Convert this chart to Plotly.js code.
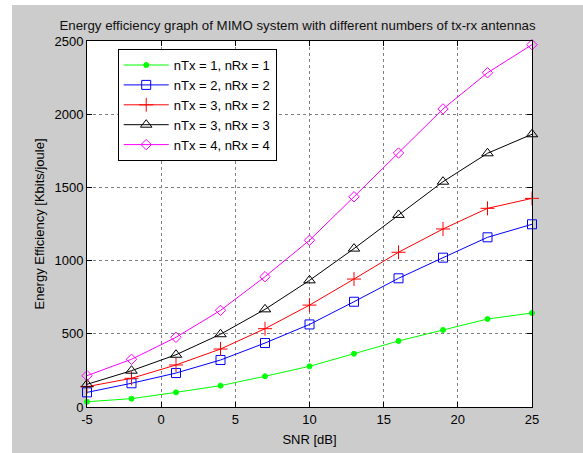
<!DOCTYPE html>
<html>
<head>
<meta charset="utf-8">
<script src="https://cdn.plot.ly/plotly-3.0.1.min.js"></script>
<style>
html,body{margin:0;padding:0;background:#ffffff;width:583px;height:453px;overflow:hidden;}
#chart{position:absolute;left:12px;top:5px;width:571px;height:448px;}
</style>
</head>
<body>
<div id="chart"></div>
<script>
const snr = [-5, -2, 1, 4, 7, 10, 13, 16, 19, 22, 25];
const ee11 = [36, 57, 100, 146, 210, 278, 364, 451, 526, 601, 642];
const ee22 = [100, 162, 232, 321, 437, 564, 719, 879, 1020, 1159, 1248];
const ee32 = [139, 196, 287, 396, 535, 696, 874, 1057, 1216, 1357, 1425];
const ee33 = [155, 248, 357, 497, 667, 865, 1082, 1312, 1539, 1733, 1863];
const ee44 = [214, 326, 476, 660, 890, 1139, 1436, 1735, 2036, 2283, 2475];
const names = ['nTx = 1, nRx = 1', 'nTx = 2, nRx = 2', 'nTx = 3, nRx = 2', 'nTx = 3, nRx = 3', 'nTx = 4, nRx = 4'];
const xTicks = [-5, 0, 5, 10, 15, 20, 25];
const yTicks = [0, 500, 1000, 1500, 2000, 2500];

const series = [ee11, ee22, ee32, ee33, ee44];
const colors = ['#00ff00', '#0000ff', '#ff0000', '#000000', '#ff00ff'];
const symbols = ['circle', 'square-open', 'cross-thin-open', 'triangle-up-open', 'diamond-open'];
const sizes = [5, 9, 10, 10, 8];

const traces = series.map((y, i) => ({
  x: snr, y: y, name: names[i], type: 'scatter', mode: 'lines+markers',
  line: {color: colors[i], width: 1},
  marker: {symbol: symbols[i], size: sizes[i], color: colors[i], line: {color: colors[i], width: 1}},
  cliponaxis: false
}));

const fontFam = '"Liberation Sans", Arial, Helvetica, sans-serif';
const layout = {
  width: 571, height: 448,
  paper_bgcolor: '#cccccc', plot_bgcolor: '#ffffff',
  margin: {l: 75, r: 51, t: 36, b: 46},
  font: {family: fontFam, size: 13, color: '#000000'},
  title: {text: 'Energy efficiency graph of MIMO system with different numbers of tx-rx antennas',
          font: {family: fontFam, size: 13.3, color: '#111111'}, x: 0.5, xanchor: 'center', y: 1, yref: 'paper', yanchor: 'bottom', pad: {b: 11}},
  xaxis: {
    range: [-5, 25], tickvals: xTicks, ticktext: xTicks.map(String),
    showline: true, linecolor: '#000000', linewidth: 1, mirror: 'ticks',
    ticks: 'inside', ticklen: 5, tickcolor: '#000000',
    showgrid: true, gridcolor: '#808080', griddash: 'dot', gridwidth: 1,
    zeroline: false,
    title: {text: 'SNR [dB]', font: {size: 13}, standoff: 9},
    tickfont: {size: 13}
  },
  yaxis: {
    range: [0, 2500], tickvals: yTicks, ticktext: yTicks.map(String),
    showline: true, linecolor: '#000000', linewidth: 1, mirror: 'ticks',
    ticks: 'inside', ticklen: 5, tickcolor: '#000000',
    showgrid: true, gridcolor: '#808080', griddash: 'dot', gridwidth: 1,
    zeroline: false,
    title: {text: 'Energy Efficiency [Kbits/joule]', font: {size: 13}, standoff: 6},
    tickfont: {size: 13}
  },
  legend: {
    x: 0.069, y: 0.978, xanchor: 'left', yanchor: 'top',
    bgcolor: '#ffffff', bordercolor: '#000000', borderwidth: 1,
    itemwidth: 45,
    font: {size: 13, color: '#000000'}
  },
  showlegend: true
};

Plotly.newPlot('chart', traces, layout, {displayModeBar: false, staticPlot: true});
</script>
</body>
</html>
